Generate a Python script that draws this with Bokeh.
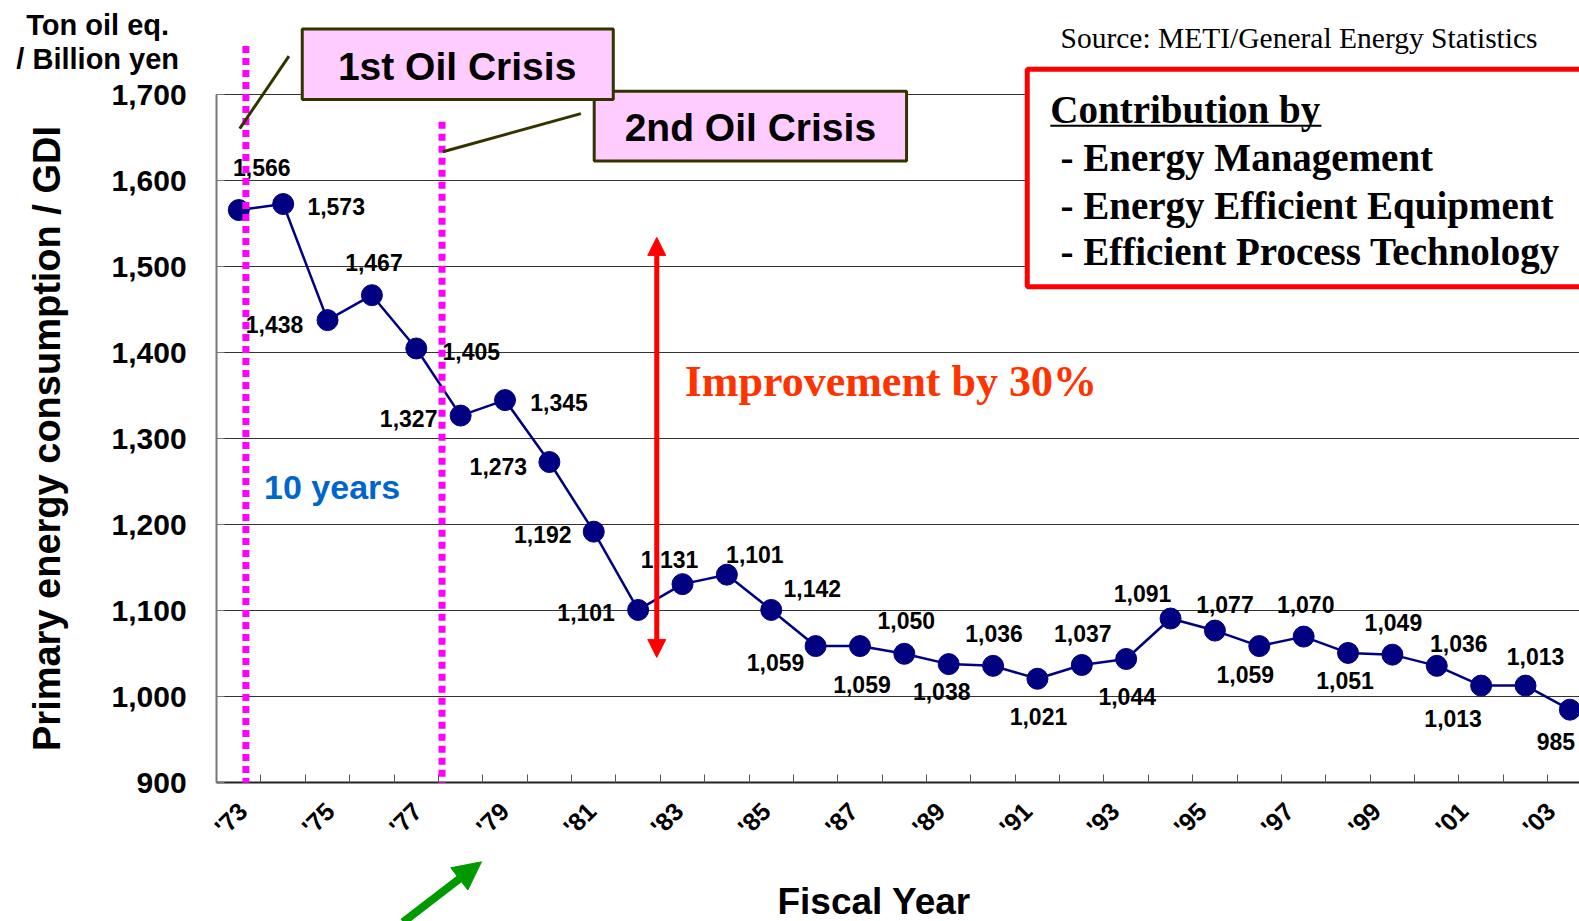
from bokeh.plotting import figure
from bokeh.models import (ColumnDataSource, FixedTicker, NumeralTickFormatter, Label,
                          BoxAnnotation, Arrow, NormalHead, CustomJSTickFormatter)
from bokeh.core.properties import value
from bokeh.embed import file_html
from bokeh.resources import INLINE

# ---------------- data ----------------
years = list(range(1973, 2004))
energy_per_gdi = [1566, 1573, 1438, 1467, 1405, 1327, 1345, 1273, 1192, 1101,
                  1131, 1142, 1101, 1059, 1059, 1050, 1038, 1036, 1021, 1037,
                  1044, 1091, 1077, 1059, 1070, 1051, 1049, 1036, 1013, 1013, 985]
point_labels = ["1,566", "1,573", "1,438", "1,467", "1,405", "1,327", "1,345", "1,273",
                "1,192", "1,101", "1,131", "1,101", "1,142", "1,059", "1,059", "1,050",
                "1,038", "1,036", "1,021", "1,037", "1,044", "1,091", "1,077", "1,059",
                "1,070", "1,051", "1,049", "1,036", "1,013", "1,013", "985"]
tick_years = list(range(1973, 2004, 2))
tick_labels = ["'73", "'75", "'77", "'79", "'81", "'83", "'85", "'87",
               "'89", "'91", "'93", "'95", "'97", "'99", "'01", "'03"]
y_ticks = [900, 1000, 1100, 1200, 1300, 1400, 1500, 1600, 1700]

# label placement (screen px offsets from each point; style only)
label_dx = [23, 53, -53, 2, 55, -52, 54, -51, -51, -52, -13, 28, 41, -40, 2, 2, -7, 1,
            1, 1, 1, -28, 10, -14, 2, -3, 1, 22, -28, 10, -14]
label_dy = [-43, 2, 4, -33, 3, 3, 2, 4, 3, 3, -25, -20, -21, 16, 38, -33, 27, -32,
            38, -31, 38, -25, -26, 28, -32, 28, -32, -22, 33, -29, 32]

SANS = "Liberation Sans"
SERIF = "Liberation Serif"

src = ColumnDataSource(dict(x=years, y=energy_per_gdi, label=point_labels,
                            dx=label_dx, dy=label_dy))

# the frame covers the whole canvas; axes are pinned with fixed_location
p = figure(width=1579, height=921, x_range=(1967.629, 2003.217), y_range=(738.72, 1809.65),
           output_backend="svg", toolbar_location=None, min_border=0)
p.outline_line_color = None
p.background_fill_color = "white"

# axes (tick labels drift slightly left along the axis, as in the original slide)
label_ticks = [y + 0.09 - 0.0174 * (y - 1973) for y in tick_years]
p.xaxis.fixed_location = 900
p.xaxis.bounds = (1972.5, 2003.217)
p.xaxis.ticker = FixedTicker(ticks=label_ticks,
                             minor_ticks=[y - 0.5 for y in years] + [2003.5])
p.xaxis.formatter = CustomJSTickFormatter(
    args=dict(labels={str(y): l for y, l in zip(tick_years, tick_labels)}),
    code="return labels[String(Math.round(tick))] || '';")
p.xaxis.major_label_orientation = 0.785398
p.xaxis.major_tick_in = 0
p.xaxis.major_tick_out = 0
p.xaxis.minor_tick_in = 8
p.xaxis.minor_tick_out = 0
p.xaxis.minor_tick_line_color = "#555555"
p.xaxis.axis_line_color = "#222222"
p.xaxis.axis_line_width = 2
p.xaxis.major_label_text_font = SANS
p.xaxis.major_label_text_font_style = "bold"
p.xaxis.major_label_text_font_size = "25px"
p.xaxis.major_label_text_color = "black"
p.xaxis.major_label_standoff = 24

p.yaxis.fixed_location = 1972.5
p.yaxis.bounds = (900, 1700)
p.yaxis.ticker = FixedTicker(ticks=y_ticks)
p.yaxis.formatter = NumeralTickFormatter(format="0,0")
p.yaxis.major_tick_in = 8
p.yaxis.major_tick_out = 0
p.yaxis.minor_tick_line_color = None
p.yaxis.axis_line_color = "#777777"
p.yaxis.axis_line_width = 2
p.yaxis.major_tick_line_color = "#777777"
p.yaxis.major_label_text_font = SANS
p.yaxis.major_label_text_font_style = "bold"
p.yaxis.major_label_text_font_size = "30px"
p.yaxis.major_label_text_color = "black"
p.yaxis.major_label_standoff = 30
p.yaxis.axis_label = "Primary energy consumption / GDI"
p.yaxis.axis_label_text_font = SANS
p.yaxis.axis_label_text_font_style = "bold"
p.yaxis.axis_label_text_font_size = "38px"
p.yaxis.axis_label_text_color = "black"
p.yaxis.axis_label_standoff = 40

p.xgrid.visible = False
p.ygrid.grid_line_color = "#333333"
p.ygrid.grid_line_width = 1
p.ygrid.bounds = (900, 1700)
p.ygrid.cross_bounds = (1972.5, 2003.217)

# series
p.line("x", "y", source=src, line_color="#000080", line_width=2.5)
p.scatter("x", "y", source=src, size=21, fill_color="#000080", line_color="#000080")
p.text("x", "y", text="label", x_offset="dx", y_offset="dy", source=src,
       text_font=value(SANS), text_font_style="bold", text_font_size="23px",
       text_color="black", text_align="center", text_baseline="middle")

# magenta dotted crisis lines
for xs, ytop in [(1973.16, 1756.6), (1977.58, 1668.8)]:
    p.add_layout(Arrow(end=None, x_start=xs, y_start=ytop, x_end=xs, y_end=900,
                       line_color="#FF00FF", line_width=7, line_dash="7 5"))

# connectors
p.add_layout(Arrow(end=None, x_start=1973.02, y_start=1660.6, x_end=1974.13, y_end=1744.9,
                   line_color="#333300", line_width=3))
p.add_layout(Arrow(end=None, x_start=1977.6, y_start=1633.7, x_end=1980.71, y_end=1678.1,
                   line_color="#333300", line_width=3))

# crisis boxes (2nd first, 1st on top)
p.add_layout(BoxAnnotation(left=1981.01, right=1988.05, top=1704, bottom=1623.1,
                           fill_color="#FFCCFF", fill_alpha=1, line_color="#333300",
                           line_width=3, line_alpha=1))
p.add_layout(Label(x=1984.53, y=1661.7, text="2nd Oil Crisis", text_font=SANS,
                   text_font_style="bold", text_font_size="39px", text_color="black",
                   text_align="center", text_baseline="middle"))
p.add_layout(BoxAnnotation(left=1974.43, right=1981.44, top=1776.5, bottom=1694.5,
                           fill_color="#FFCCFF", fill_alpha=1, line_color="#333300",
                           line_width=3, line_alpha=1))
p.add_layout(Label(x=1977.92, y=1733.1, text="1st Oil Crisis", text_font=SANS,
                   text_font_style="bold", text_font_size="39px", text_color="black",
                   text_align="center", text_baseline="middle"))

# contribution box
p.add_layout(BoxAnnotation(left=1990.77, right=2010, top=1729.7, bottom=1476.7,
                           fill_color="white", fill_alpha=1, line_color="#FF0000",
                           line_width=5, line_alpha=1))
p.add_layout(Label(x=1991.29, y=1682.8, text="Contribution by", text_font=SERIF,
                   text_font_style="bold", text_font_size="39px", text_color="black",
                   text_align="left", text_baseline="middle"))
p.add_layout(Arrow(end=None, x_start=1991.29, y_start=1664.1, x_end=1997.4, y_end=1664.1,
                   line_color="black", line_width=2))
for txt, yy in [("- Energy Management", 1626.6),
                ("- Energy Efficient Equipment", 1571.6),
                ("- Efficient Process Technology", 1517.8)]:
    p.add_layout(Label(x=1991.52, y=yy, text=txt, text_font=SERIF,
                       text_font_style="bold", text_font_size="39px", text_color="black",
                       text_align="left", text_baseline="middle"))

p.add_layout(Label(x=1991.52, y=1765.9, text="Source: METI/General Energy Statistics",
                   text_font=SERIF, text_font_size="29.5px", text_color="black",
                   text_align="left", text_baseline="middle"))

# improvement arrow + text
p.add_layout(Arrow(start=NormalHead(size=18, fill_color="#FF0000", line_color="#FF0000"),
                   end=NormalHead(size=18, fill_color="#FF0000", line_color="#FF0000"),
                   x_start=1982.42, y_start=1045.8, x_end=1982.42, y_end=1534.2,
                   line_color="#FF0000", line_width=5))
p.add_layout(Label(x=1983.05, y=1366.7, text="Improvement by 30%", text_font=SERIF,
                   text_font_style="bold", text_font_size="44px", text_color="#FF3300",
                   text_align="left", text_baseline="middle"))

p.add_layout(Label(x=1973.57, y=1243.7, text="10 years", text_font=SANS,
                   text_font_style="bold", text_font_size="34px", text_color="#0066CC",
                   text_align="left", text_baseline="middle"))

# unit label
p.add_layout(Label(x=1969.82, y=1781.2, text="Ton oil eq.", text_font=SANS,
                   text_font_style="bold", text_font_size="29px", text_color="black",
                   text_align="center", text_baseline="middle"))
p.add_layout(Label(x=1969.82, y=1741.4, text="/ Billion yen", text_font=SANS,
                   text_font_style="bold", text_font_size="29px", text_color="black",
                   text_align="center", text_baseline="middle"))

# x title
p.add_layout(Label(x=1987.32, y=762, text="Fiscal Year", text_font=SANS,
                   text_font_style="bold", text_font_size="37px", text_color="black",
                   text_align="center", text_baseline="middle"))

# green arrow
p.add_layout(Arrow(end=NormalHead(size=28, fill_color="#009900", line_color="#009900"),
                   x_start=1976.7, y_start=737.9, x_end=1978.47, y_end=808.1,
                   line_color="#009900", line_width=8))

open("out.html", "w").write(file_html(p, INLINE))
